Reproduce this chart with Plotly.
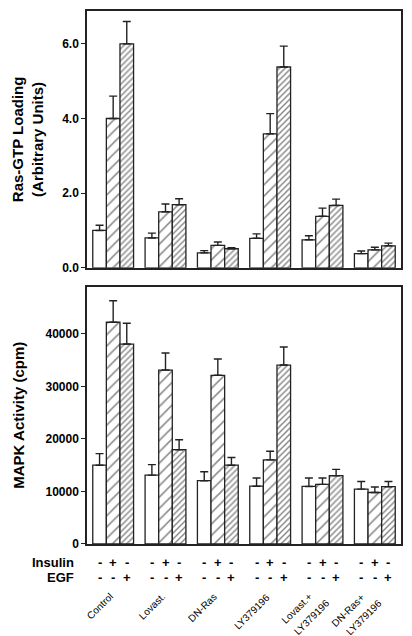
import plotly.graph_objects as go

categories = ["Control", "Lovast.", "DN-Ras", "LY379196", "Lovast.+<br>LY379196", "DN-Ras+<br>LY379196"]
series_names = ["Basal", "Insulin", "EGF"]
insulin_signs = ["-", "+", "-"]
egf_signs = ["-", "-", "+"]

# Ras-GTP loading (arbitrary units)
ras_basal = [1.0, 0.80, 0.40, 0.79, 0.75, 0.38]
ras_insulin = [4.0, 1.50, 0.60, 3.59, 1.38, 0.48]
ras_egf = [6.0, 1.69, 0.51, 5.38, 1.67, 0.59]
ras_basal_err = [0.14, 0.13, 0.06, 0.12, 0.11, 0.07]
ras_insulin_err = [0.60, 0.21, 0.09, 0.54, 0.22, 0.07]
ras_egf_err = [0.60, 0.16, 0.03, 0.56, 0.17, 0.07]

# MAPK activity (cpm)
mapk_basal = [15000, 13100, 12050, 11000, 10950, 10450]
mapk_insulin = [42200, 33100, 32100, 16000, 11350, 9800]
mapk_egf = [38050, 17950, 15000, 34050, 13000, 10900]
mapk_basal_err = [2200, 2000, 1700, 1550, 1600, 1450]
mapk_insulin_err = [4100, 3250, 3100, 1650, 1200, 1050]
mapk_egf_err = [3950, 1900, 1450, 3450, 1200, 1000]

FONT = "Liberation Sans, Arial, sans-serif"
LINE = "#222222"

patterns = [
    dict(shape=""),
    dict(shape="/", size=8, solidity=0.2, fgcolor="#1a1a1a", bgcolor="white"),
    dict(shape="/", size=4.2, solidity=0.37, fgcolor="#1a1a1a", bgcolor="white"),
]

fig = go.Figure()

panels = [
    ("x", "y", [ras_basal, ras_insulin, ras_egf], [ras_basal_err, ras_insulin_err, ras_egf_err]),
    ("x2", "y2", [mapk_basal, mapk_insulin, mapk_egf], [mapk_basal_err, mapk_insulin_err, mapk_egf_err]),
]
xs = list(range(len(categories)))
for xa, ya, vals, errs in panels:
    for k in range(3):
        fig.add_trace(go.Bar(
            x=xs, y=vals[k], name=series_names[k], xaxis=xa, yaxis=ya,
            offsetgroup=str(k), showlegend=False,
            marker=dict(color="white", line=dict(color=LINE, width=1.3), pattern=patterns[k]),
            error_y=dict(type="data", array=errs[k], arrayminus=[0] * len(xs), symmetric=False,
                         color=LINE, thickness=1.4, width=4),
        ))

axis_common = dict(showline=True, linecolor=LINE, linewidth=1.5, mirror=True,
                   showgrid=False, zeroline=False)

fig.update_layout(
    width=412, height=636,
    margin=dict(l=87, r=9, t=10, b=92),
    paper_bgcolor="white", plot_bgcolor="white",
    barmode="group", bargap=0.22, bargroupgap=0,
    font=dict(family=FONT, color="black"),
    xaxis=dict(domain=[0, 1], anchor="y", range=[-0.5, 5.5], showticklabels=False, ticks="", **axis_common),
    yaxis=dict(domain=[0.5182, 1], anchor="x", range=[0, 6.88], tickvals=[0, 2, 4, 6], tickformat=".1f",
               ticks="outside", ticklen=4, tickwidth=1.2, tickcolor=LINE,
               tickfont=dict(size=12, weight="bold", family=FONT),
               title=dict(text="Ras-GTP Loading<br>(Arbitrary Units)", standoff=15,
                          font=dict(size=15, weight="bold", family=FONT)),
               **axis_common),
    xaxis2=dict(domain=[0, 1], anchor="y2", range=[-0.5, 5.5], showticklabels=False, ticks="", **axis_common),
    yaxis2=dict(domain=[0, 0.4831], anchor="x2", range=[0, 49000], tickvals=[0, 10000, 20000, 30000, 40000],
                tickformat="d", ticks="outside", ticklen=4, tickwidth=1.2, tickcolor=LINE,
                tickfont=dict(size=12, weight="bold", family=FONT),
                title=dict(text="MAPK Activity (cpm)", standoff=17,
                           font=dict(size=15, weight="bold", family=FONT)),
                **axis_common),
)

plot_h = 636 - 10 - 92
plot_w = 412 - 87 - 9
def py(px):
    return (636 - 92 - px) / plot_h

px_per_cat = plot_w / 6.0
bar_w = (1 - 0.22) / 3
ann = []
ann.append(dict(text="Insulin", xref="paper", yref="paper", x=-0.035, y=py(563), xanchor="right",
                yanchor="middle", showarrow=False, font=dict(size=13, weight="bold", family=FONT)))
ann.append(dict(text="EGF", xref="paper", yref="paper", x=-0.035, y=py(578), xanchor="right",
                yanchor="middle", showarrow=False, font=dict(size=13, weight="bold", family=FONT)))
for i in xs:
    for k in range(3):
        xpos = i + (k - 1) * bar_w
        ann.append(dict(text=insulin_signs[k], xref="x2", yref="paper", x=xpos, y=py(563),
                        xanchor="center", yanchor="middle", showarrow=False,
                        font=dict(size=13, weight="bold", family=FONT)))
        ann.append(dict(text=egf_signs[k], xref="x2", yref="paper", x=xpos, y=py(578),
                        xanchor="center", yanchor="middle", showarrow=False,
                        font=dict(size=13, weight="bold", family=FONT)))
    lines = categories[i].split("<br>")
    if len(lines) == 1:
        offsets = [(3, 590)]
    else:
        offsets = [(-7, 590), (10, 596)]
    for line, (dx, top) in zip(lines, offsets):
        ann.append(dict(text=line, xref="x2", yref="paper", x=i + dx / px_per_cat, y=py(top),
                        xanchor="right", yanchor="top", textangle=-45, showarrow=False,
                        borderpad=0, font=dict(size=10, family=FONT)))
fig.update_layout(annotations=ann)

fig.write_html("out.html", config={"displayModeBar": False},
               post_script="document.body.style.margin='0px';document.body.style.padding='0px';")
